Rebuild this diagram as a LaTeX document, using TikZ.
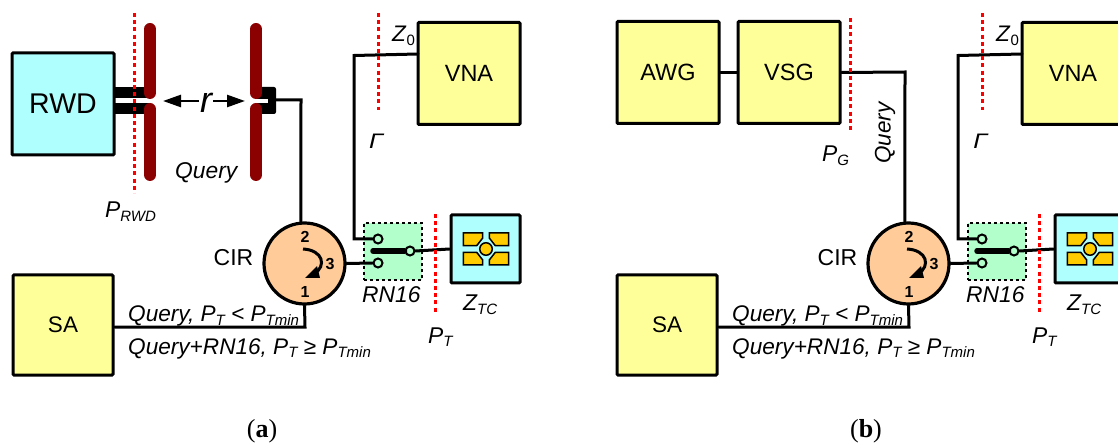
\documentclass[tikz,border=0pt]{standalone}
\usepackage{fontspec}
\setmainfont{Liberation Sans}
\newfontfamily\capfont{Liberation Serif}
\usetikzlibrary{arrows.meta}
\definecolor{boxyellow}{HTML}{FFFF99}
\definecolor{boxcyan}{HTML}{AFFFFF}
\definecolor{swgreen}{HTML}{B3FFCC}
\definecolor{ciorange}{HTML}{FFCC99}
\definecolor{antred}{HTML}{8B0000}
\definecolor{padgold}{HTML}{FFCC00}
\newcommand{\fsz}[1]{\fontsize{#1}{#1}\selectfont}
\newcommand{\subtxt}[2]{\textit{#1}\raisebox{-0.17em}{\fontsize{15}{15}\selectfont\textit{#2}}}
\tikzset{
	blockbox/.style={draw,line width=3pt,rounded corners=1pt,inner sep=0pt,minimum width=102pt,minimum height=102pt,font=\fsz{23.5}},
	wire/.style={line width=3pt,line cap=round,line join=miter},
	refplane/.style={red,line width=3pt,dash pattern=on 4pt off 3.2pt},
	antarm/.style={antred,line width=12pt,line cap=round},
	contact/.style={circle,draw,line width=2pt,fill=swgreen,inner sep=0pt,minimum size=9pt},
	lbl/.style={inner sep=0pt,font=\fsz{22.8}\itshape,anchor=base west},
	portnum/.style={inner sep=0pt,font=\fsz{16}\bfseries},
	capt/.style={inner sep=0pt,font=\capfont\fsz{26}},
	rangetip/.style={line width=2.5pt,-{Triangle[length=18pt,width=12pt]}},
}
\begin{document}
\begin{tikzpicture}[x=1pt,y=-1pt]
	\clip (0,0) rectangle (1118,443);
	% parts shared by both panels
	\foreach \off/\tg in {0/a,604/b} {
		\begin{scope}[xshift=\off]
			\node [blockbox,fill=boxyellow] (vna\tg) at (469,73.5) {VNA};
			\node [blockbox,fill=boxyellow,minimum width=100pt,minimum height=100pt,font=\fsz{22.5}] (sa\tg) at (63,325) {SA};
			\node [circle,draw,line width=3.2pt,fill=ciorange,inner sep=0pt,minimum size=81pt] (cir\tg) at (304.5,263.5) {};
			\node [inner sep=0pt,font=\fsz{23}] at (233.5,258) {CIR};
			\node [portnum] at (305,237) {2};
			\node [portnum] at (330,264) {3};
			\node [portnum] at (305,292) {1};
			\draw [line width=3pt] (303,249) .. controls (323,250) and (327,266) .. (314,274);
			\fill (305,278) -- (320,278) -- (317,266) -- cycle;
			% switch
			\node [draw,dashed,line width=1.4pt,fill=swgreen,minimum width=58pt,minimum height=57pt,inner sep=0pt] (rn\tg) at (393,251.5) {};
			\node [contact] (swtop\tg) at (378,239) {};
			\node [contact] (swbot\tg) at (378,263) {};
			\node [contact] (swarm\tg) at (410,251) {};
			\coordinate (swpivot\tg) at (373,251);
			\draw [line width=5.5pt,line cap=round] (swpivot\tg) -- (swarm\tg.west);
			\draw [wire] (cir\tg.east) -- (swbot\tg.west);
			% tag chip
			\node [blockbox,fill=boxcyan,minimum width=69pt,minimum height=68pt] (chip\tg) at (485.5,249) {};
			\draw [wire] (swarm\tg.east) -- (chip\tg.west);
			\foreach \sx in {1,-1} \foreach \sy in {1,-1} {
				\draw [fill=padgold,line width=1.5pt,shift={(486,249)},xscale=\sx,yscale=\sy] (3.3,-16) -- (22.7,-16) -- (22.7,-3.3) -- (9.3,-3.3) -- (3.3,-11) -- cycle;
			}
			\node [circle,draw,line width=1.5pt,fill=padgold,inner sep=0pt,minimum size=12.5pt] at (486,249) {};
			% path to the analyser
			\coordinate (vnaport\tg) at (418,54);
			\coordinate (gammacor\tg) at (354,55.5);
			\coordinate (gammalow\tg) at (354,239);
			\draw [wire] (vnaport\tg) -- (gammacor\tg) -- (gammalow\tg) -- (swtop\tg.west);
			\coordinate (sacor\tg) at (305,327);
			\draw [wire] (cir\tg.south) -- (sacor\tg) -- (sa\tg.east |- sacor\tg);
			% reference planes
			\coordinate (zplanetop\tg) at (378,13);
			\coordinate (zplanelow\tg) at (378,110);
			\coordinate (tplanetop\tg) at (435,214);
			\coordinate (tplanelow\tg) at (435,312);
			\draw [refplane] (zplanetop\tg) -- (zplanelow\tg);
			\draw [refplane] (tplanetop\tg) -- (tplanelow\tg);
			% labels
			\node [lbl,font=\fsz{22.5}] at (392,42) {\textit{Z}\raisebox{-0.17em}{\fsz{15}0}};
			\node [lbl,font=\fsz{21}\itshape,xscale=1.2] at (369,149) {Γ};
			\node [lbl] at (362,303) {RN16};
			\node [lbl] at (463,311) {\subtxt{Z}{TC}};
			\node [lbl] at (428,343) {\subtxt{P}{T}};
			\node [lbl,font=\fsz{22.6}\itshape] at (128,322) {Query, \subtxt{P}{T} < \subtxt{P}{Tmin}};
			\node [lbl,font=\fsz{22.6}\itshape] at (128,354) {Query+RN16, \subtxt{P}{T} ≥ \subtxt{P}{Tmin}};
		\end{scope}
	}
	% panel a
	\node [blockbox,fill=boxcyan,font=\fsz{28.5}] (rwd) at (63,104) {RWD};
	\coordinate (rwdhi) at (114,92.5);
	\coordinate (rwdlo) at (114,108.5);
	\coordinate (anthi) at (150,92.5);
	\coordinate (antlo) at (150,108.5);
	\draw [line width=11pt] (rwdhi) -- (anthi);
	\draw [line width=11pt] (rwdlo) -- (antlo);
	\fill [rounded corners=2pt] (256,87) rectangle (276,114);
	\fill [white] (256,99) rectangle (268,103);
	\foreach \xa in {150,256} {
		\draw [antarm] (\xa,29) -- (\xa,93);
		\draw [antarm] (\xa,109) -- (\xa,175);
	}
	\coordinate (planetop) at (134,13);
	\coordinate (planelow) at (134,193);
	\draw [refplane] (planetop) -- (planelow);
	\node [inner sep=0pt,font=\fsz{36}\itshape] (range) at (206,103) {r};
	\coordinate (rleft) at (163,101);
	\coordinate (rright) at (245,101);
	\coordinate (rstartl) at (199,101);
	\coordinate (rstartr) at (213,101);
	\draw [rangetip] (rstartl) -- (rleft);
	\draw [rangetip] (rstartr) -- (rright);
	\node [lbl] at (175,179) {Query};
	\node [lbl] at (105,218) {\subtxt{P}{RWD}};
	\coordinate (feedcor) at (301,100);
	\draw [wire] (276,100) -- (feedcor) -- (cira.95);
	\node [capt] at (262,431) {(\textbf{a})};
	% panel b
	\node [blockbox,fill=boxyellow] (awg) at (668,72.5) {AWG};
	\node [blockbox,fill=boxyellow] (vsg) at (789,72.5) {VSG};
	\draw [wire] (awg) -- (vsg);
	\coordinate (vsgcor) at (905,72);
	\draw [wire] (vsg.east) -- (vsgcor) -- (cirb.95);
	\coordinate (gplanetop) at (850,18);
	\coordinate (gplanelow) at (850,133);
	\draw [refplane] (gplanetop) -- (gplanelow);
	\node [lbl] at (822,162) {\subtxt{P}{G}};
	\node [inner sep=0pt,font=\fsz{22.5}\itshape,rotate=90] at (885,133) {Query};
	\node [capt] at (866,431) {(\textbf{b})};
\end{tikzpicture}
\end{document}
